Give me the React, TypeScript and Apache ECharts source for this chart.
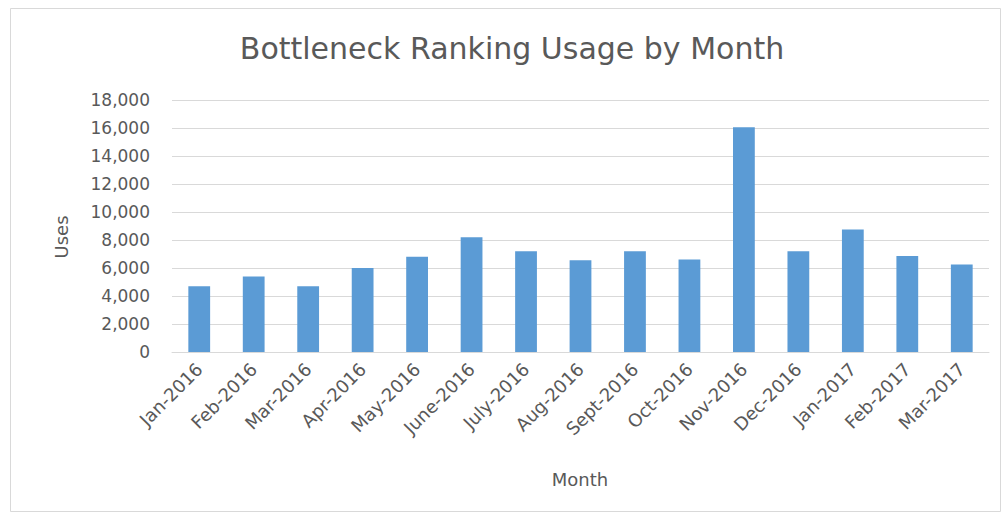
import React, { useEffect, useRef } from "react";
import * as echarts from "echarts";

const categories = [
  "Jan-2016", "Feb-2016", "Mar-2016", "Apr-2016", "May-2016", "June-2016",
  "July-2016", "Aug-2016", "Sept-2016", "Oct-2016", "Nov-2016", "Dec-2016",
  "Jan-2017", "Feb-2017", "Mar-2017",
];
const uses = [4700, 5400, 4700, 6000, 6800, 8200, 7200, 6550, 7200, 6600, 16050, 7200, 8750, 6850, 6250];
const titleText = "Bottleneck Ranking Usage by Month";
const yAxisName = "Uses";
const xAxisName = "Month";

export default function App() {
  const ref = useRef<HTMLDivElement>(null);
  useEffect(() => {
    const chart = echarts.init(ref.current!, null, { renderer: "svg" });
    const font = "'DejaVu Sans', sans-serif";
    chart.setOption({
      animation: false,
      backgroundColor: "#ffffff",
      textStyle: { fontFamily: font },
      graphic: [
        {
          type: "rect",
          shape: { x: 10.5, y: 8.5, width: 990, height: 503 },
          style: { fill: "none", stroke: "#d9d9d9", lineWidth: 1 },
          silent: true,
        },
        {
          type: "text",
          x: 512,
          y: 48,
          style: {
            text: titleText,
            fontFamily: font,
            fontSize: 30,
            fill: "#595959",
            align: "center",
            verticalAlign: "middle",
          },
        },
        {
          type: "text",
          x: 61,
          y: 237,
          rotation: Math.PI / 2,
          style: {
            text: yAxisName,
            fontFamily: font,
            fontSize: 18,
            fill: "#595959",
            align: "center",
            verticalAlign: "middle",
          },
        },
        {
          type: "text",
          x: 580,
          y: 479,
          style: {
            text: xAxisName,
            fontFamily: font,
            fontSize: 18,
            fill: "#595959",
            align: "center",
            verticalAlign: "middle",
          },
        },
      ],
      grid: { left: 172, right: 16, top: 100, bottom: 165, containLabel: false },
      xAxis: {
        type: "category",
        data: categories,
        axisLine: { lineStyle: { color: "#d9d9d9" } },
        axisTick: { show: false },
        axisLabel: {
          interval: 0,
          rotate: 45,
          fontFamily: font,
          fontSize: 18,
          color: "#595959",
          margin: 14,
        },
      },
      yAxis: {
        type: "value",
        min: 0,
        max: 18000,
        interval: 2000,
        axisLine: { show: false },
        axisTick: { show: false },
        splitLine: { lineStyle: { color: "#d9d9d9" } },
        axisLabel: {
          fontFamily: font,
          fontSize: 17,
          color: "#595959",
          margin: 22,
          formatter: (v: number) => v.toLocaleString("en-US"),
        },
      },
      series: [
        {
          type: "bar",
          data: uses,
          barWidth: "40%",
          itemStyle: { color: "#5b9bd5" },
        },
      ],
    });
    return () => chart.dispose();
  }, []);
  return (
    <div
      ref={ref}
      style={{ position: "absolute", left: 0, top: 0, width: 1005, height: 517 }}
    />
  );
}
